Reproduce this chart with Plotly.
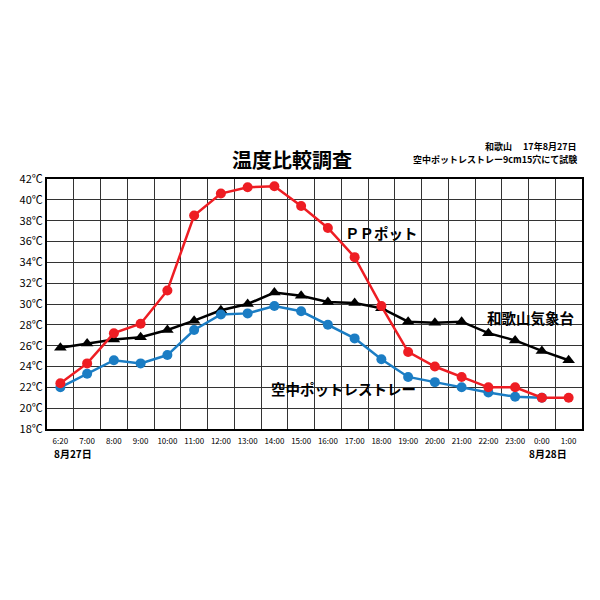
import plotly.graph_objects as go

# time labels (x axis)
times = ["6:20", "7:00", "8:00", "9:00", "10:00", "11:00", "12:00", "13:00", "14:00", "15:00",
         "16:00", "17:00", "18:00", "19:00", "20:00", "21:00", "22:00", "23:00", "0:00", "1:00"]

# PPポット
pp_pot = [22.4, 24.3, 27.2, 28.1, 31.3, 38.5, 40.6, 41.2, 41.3, 39.4,
          37.3, 34.5, 29.8, 25.4, 24.0, 23.0, 22.0, 22.0, 21.0, 21.0]

# 和歌山気象台
wakayama = [25.8, 26.2, 26.6, 26.8, 27.5, 28.4, 29.4, 30.0, 31.1, 30.8,
            30.2, 30.1, 29.6, 28.3, 28.2, 28.3, 27.2, 26.5, 25.5, 24.6]

# 空中ポットレストレー
air_tray = [22.0, 23.3, 24.6, 24.3, 25.1, 27.5, 29.0, 29.1, 29.8, 29.3,
            28.0, 26.7, 24.7, 23.0, 22.5, 22.0, 21.5, 21.1, 21.0, None]

y_ticks = list(range(18, 43, 2))
y_ticktext = [f"{v}℃" for v in y_ticks]

FONT = "Noto Sans CJK JP"

fig = go.Figure()

fig.add_trace(go.Scatter(x=times, y=wakayama, mode="lines+markers",
                         line=dict(color="black", width=2.5),
                         marker=dict(symbol="triangle-up", size=11, color="black"),
                         name="和歌山気象台"))
fig.add_trace(go.Scatter(x=times, y=air_tray, mode="lines+markers",
                         line=dict(color="#1b7dc4", width=2.5),
                         marker=dict(symbol="circle", size=10, color="#1b7dc4"),
                         name="空中ポットレストレー"))
fig.add_trace(go.Scatter(x=times, y=pp_pot, mode="lines+markers",
                         line=dict(color="#ee1d23", width=2.5),
                         marker=dict(symbol="circle", size=10, color="#ee1d23"),
                         name="PPポット"))

fig.update_xaxes(type="category", tickson="boundaries", showgrid=True,
                 gridcolor="#333333", gridwidth=1.2,
                 showline=True, linecolor="black", linewidth=2, mirror=True,
                 ticks="", tickangle=0, ticklabelstandoff=3,
                 tickfont=dict(family=FONT, size=8, color="black"),
                 range=[-0.5, 19.5])
fig.update_yaxes(range=[18, 42], tickvals=y_ticks, ticktext=y_ticktext,
                 showgrid=True, gridcolor="#333333", gridwidth=1.2,
                 showline=True, linecolor="black", linewidth=2, mirror=True,
                 zeroline=False, ticks="",
                 tickfont=dict(family=FONT, size=11, color="black"))

annos = [
    dict(text="<b>温度比較調査</b>", xref="paper", yref="paper", x=0.458, y=1.076,
         font=dict(size=20), xanchor="center", yanchor="middle"),
    dict(text="<b>和歌山　 17年8月27日</b>", xref="paper", yref="paper", x=0.995, y=1.132,
         font=dict(size=9), xanchor="right", yanchor="middle"),
    dict(text="<b>空中ポットレストレー9cm15穴にて試験</b>", xref="paper", yref="paper", x=0.995, y=1.076,
         font=dict(size=9), xanchor="right", yanchor="middle"),
    dict(text="<b>ＰＰポット</b>", xref="x", yref="y", x=12, y=36.9,
         font=dict(size=14.5), xanchor="center", yanchor="middle"),
    dict(text="<b>和歌山気象台</b>", xref="x", yref="y", x=17.6, y=28.7,
         font=dict(size=14.5), xanchor="center", yanchor="middle"),
    dict(text="<b>空中ポットレストレー</b>", xref="x", yref="y", x=10.6, y=21.9,
         font=dict(size=14.5), xanchor="center", yanchor="middle"),
    dict(text="<b>8月27日</b>", xref="paper", yref="paper", x=0.01, y=-0.096,
         font=dict(size=10), xanchor="left", yanchor="middle"),
    dict(text="<b>8月28日</b>", xref="paper", yref="paper", x=0.975, y=-0.096,
         font=dict(size=10), xanchor="right", yanchor="middle"),
]
for a in annos:
    a["showarrow"] = False
    a["font"]["family"] = FONT
    a["font"]["color"] = "black"
    fig.add_annotation(**a)

# the page has an 8px body margin, so shift the plot area up/left by 8px
fig.update_layout(width=600, height=600,
                  margin=dict(l=39, r=26, t=171, b=179),
                  paper_bgcolor="white", plot_bgcolor="white",
                  showlegend=False, font=dict(family=FONT, color="black"))

fig.write_html("out.html")
